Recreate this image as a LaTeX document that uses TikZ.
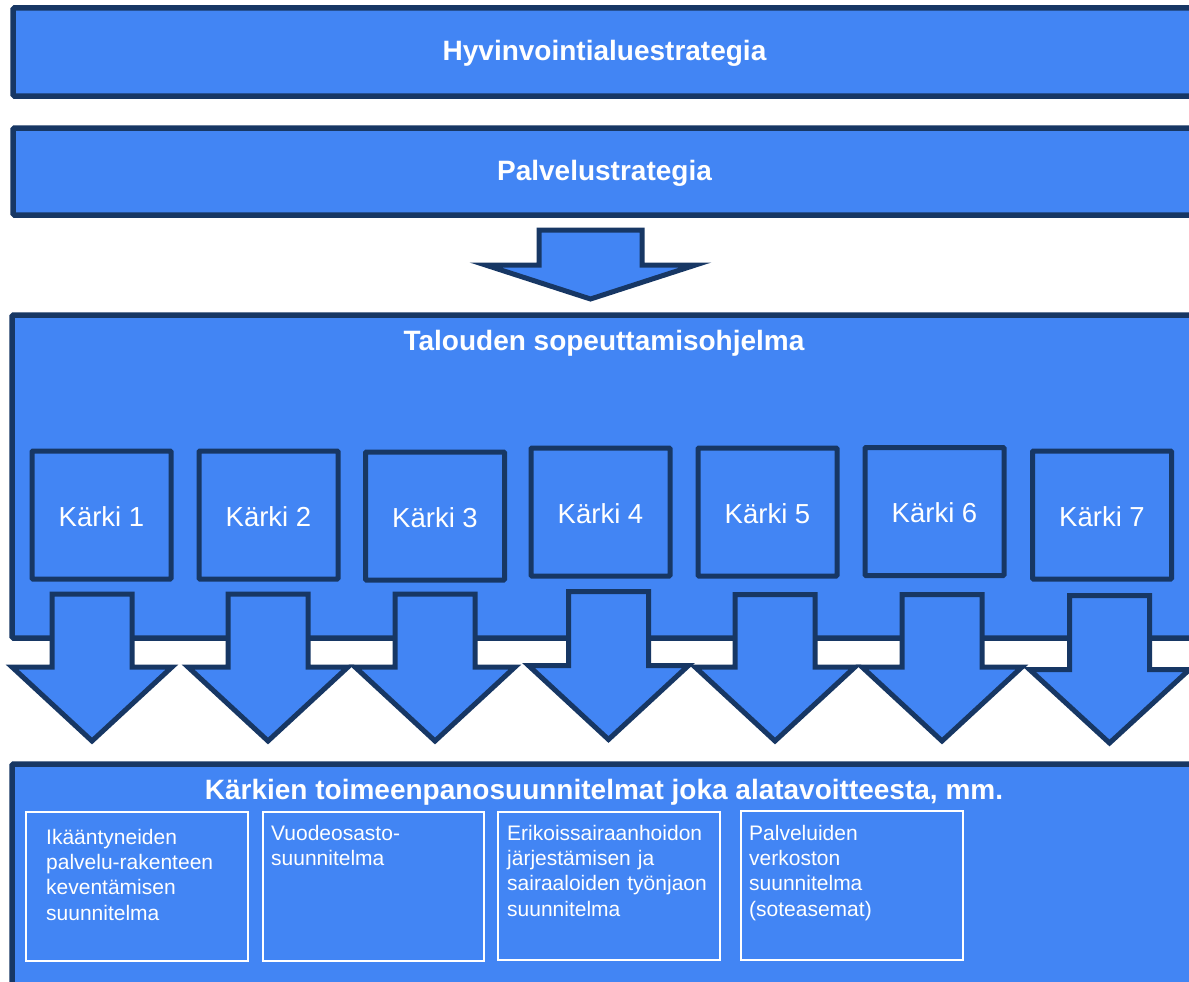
\documentclass[tikz,border=0pt]{standalone}
\usepackage{fontspec}
\setmainfont{Liberation Sans}
\definecolor{boxblue}{RGB}{66,133,244}
\definecolor{navy}{RGB}{23,55,100}
\newcommand{\karrow}[4]{%
  \draw[arrowshape] (#1-40,#2) -- (#1+40,#2) -- (#1+40,#3) -- (#1+80,#3)
    -- (#1,#4) -- (#1-80,#3) -- (#1-40,#3) -- cycle;}
\tikzset{
  bigbox/.style={draw=navy, fill=boxblue, line width=5.5pt, rounded corners=1.5pt,
    inner sep=0pt, outer sep=0pt, anchor=north west},
  karkibox/.style={draw=navy, fill=boxblue, line width=5pt, rounded corners=1pt,
    minimum width=139pt, minimum height=128pt, inner sep=0pt, outer sep=0pt},
  arrowshape/.style={draw=navy, fill=boxblue, line width=5pt, line join=miter},
  inbox/.style={draw=white, line width=1.5pt, inner sep=0pt, outer sep=0pt, anchor=north west},
  titletext/.style={text=white, inner sep=0pt, anchor=base,
    font=\fontsize{28}{33}\selectfont\bfseries},
  karkitext/.style={text=white, inner sep=0pt, anchor=base,
    font=\fontsize{27.5}{32}\selectfont},
  intext/.style={text=white, inner sep=0pt, anchor=base west, align=left,
    text width=225pt, font=\fontsize{21}{25.4}\selectfont},
}
\begin{document}
\begin{tikzpicture}[x=1pt,y=-1pt]
\useasboundingbox (0,0) rectangle (1189,982);
\clip (0,0) rectangle (1189,982);
\fill[white] (0,0) rectangle (1189,982);

% top boxes
\node[bigbox, minimum width=1190pt, minimum height=88pt] (hyv) at (13,8) {};
\node[titletext] (hyvt) at (604.5,60) {Hyvinvointialuestrategia};
\node[bigbox, minimum width=1190pt, minimum height=87pt] (pal) at (13,128) {};
\node[titletext] (palt) at (604.5,180.5) {Palvelustrategia};

% top arrow
\draw[arrowshape] (539,230) -- (642,230) -- (642,265) -- (695.5,265)
  -- (590.5,299) -- (485.5,265) -- (539,265) -- cycle;

% programme box
\node[bigbox, minimum width=1190pt, minimum height=323pt] (tal) at (12,315) {};
\node[titletext] (talt) at (604,350) {Talouden sopeuttamisohjelma};

% karki boxes
\node[karkibox] (k1) at (101.5,515) {};
\node[karkibox] (k2) at (268.5,515) {};
\node[karkibox] (k3) at (435,516) {};
\node[karkibox] (k4) at (600.5,512) {};
\node[karkibox] (k5) at (767.5,512) {};
\node[karkibox] (k6) at (934.5,511.5) {};
\node[karkibox] (k7) at (1102,515) {};
\node[karkitext] (k1t) at (101.5,526) {Kärki 1};
\node[karkitext] (k2t) at (268.5,526) {Kärki 2};
\node[karkitext] (k3t) at (435,527) {Kärki 3};
\node[karkitext] (k4t) at (600.5,523) {Kärki 4};
\node[karkitext] (k5t) at (767.5,523) {Kärki 5};
\node[karkitext] (k6t) at (934.5,522.5) {Kärki 6};
\node[karkitext] (k7t) at (1102,526) {Kärki 7};

% down arrows
\karrow{92}{594}{667}{741}
\karrow{268}{594}{667}{741}
\karrow{435}{594}{667}{741}
\karrow{608.5}{591.5}{665.5}{739.5}
\karrow{775}{594.5}{667}{741}
\karrow{942}{594.5}{667}{741}
\karrow{1109.5}{595.5}{669.5}{743}

% bottom box
\node[bigbox, minimum width=1190pt, minimum height=240pt] (kar) at (12,764) {};
\node[titletext] (kart) at (604,799) {Kärkien toimeenpanosuunnitelmat joka alatavoitteesta, mm.};

\node[inbox, minimum width=222pt, minimum height=149pt] (ba) at (26,812) {};
\node[inbox, minimum width=221pt, minimum height=149pt] (bb) at (263,812) {};
\node[inbox, minimum width=222pt, minimum height=148pt] (bc) at (498,812) {};
\node[inbox, minimum width=222pt, minimum height=149pt] (bd) at (741,811) {};

\node[intext] (ta) at (46,844) {Ikääntyneiden\\palvelu-rakenteen\\keventämisen\\suunnitelma};
\node[intext] (tb) at (271,840.5) {Vuodeosasto-\\suunnitelma};
\node[intext] (tc) at (507,840) {Erikoissairaanhoidon\\järjestämisen ja\\sairaaloiden työnjaon\\suunnitelma};
\node[intext] (td) at (749,840) {Palveluiden\\verkoston\\suunnitelma\\(soteasemat)};
\end{tikzpicture}
\end{document}
